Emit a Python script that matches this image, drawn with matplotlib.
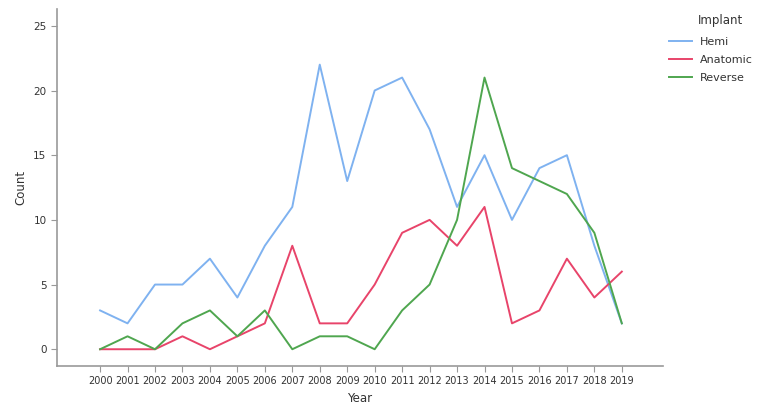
import matplotlib
matplotlib.use("Agg")
import matplotlib.pyplot as plt

years = list(range(2000, 2020))
hemi = [3, 2, 5, 5, 7, 4, 8, 11, 22, 13, 20, 21, 17, 11, 15, 10, 14, 15, 8, 2]
anatomic = [0, 0, 0, 1, 0, 1, 2, 8, 2, 2, 5, 9, 10, 8, 11, 2, 3, 7, 4, 6]
reverse = [0, 1, 0, 2, 3, 1, 3, 0, 1, 1, 0, 3, 5, 10, 21, 14, 13, 12, 9, 2]
series_names = ["Hemi", "Anatomic", "Reverse"]
colors = ["#7fb2f0", "#e8446a", "#4fa64f"]
yticks = [0, 5, 10, 15, 20, 25]

plt.rcParams['font.family'] = ['DejaVu Sans']
fig = plt.figure(figsize=(7.74, 4.09), dpi=100)
ax = fig.add_axes([0.0736, 0.105, 0.783, 0.873])

for name, vals, c in zip(series_names, [hemi, anatomic, reverse], colors):
    ax.plot(years, vals, color=c, lw=1.4, label=name)

ax.set_xlim(1998.43, 2020.5)
ax.set_ylim(-1.3, 26.3)
ax.set_xticks(years)
ax.set_xticklabels([str(y) for y in years], fontsize=7)
ax.set_yticks(yticks)
ax.set_yticklabels([str(v) for v in yticks], fontsize=7.5)
for s in ["top", "right"]:
    ax.spines[s].set_visible(False)
for s in ["left", "bottom"]:
    ax.spines[s].set_color("#999999")
    ax.spines[s].set_linewidth(1.2)
ax.tick_params(colors="#999999", labelcolor="#333333", length=4, width=0.8)
ax.set_xlabel("Year", fontsize=8.5, color="#333333")
ax.set_ylabel("Count", fontsize=8.5, color="#333333")

leg = fig.legend(loc="upper left", bbox_to_anchor=(0.852, 0.935), frameon=False,
                 fontsize=8, handlelength=2.0, labelspacing=0.75, handletextpad=0.7)
for t in leg.get_texts():
    t.set_color("#333333")
fig.text(0.9015, 0.950, "Implant", fontsize=8.5, color="#333333", ha="left", va="center")

fig.savefig("out.png", dpi=100)
